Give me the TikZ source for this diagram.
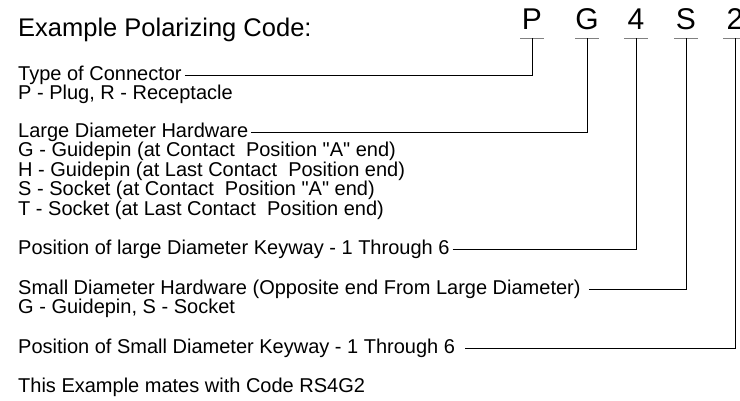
\documentclass[tikz,border=0pt]{standalone}
\usepackage{fontspec}
\setmainfont{Liberation Sans}
\begin{document}
\begin{tikzpicture}[x=1pt,y=-1pt,
  desc/.style={anchor=base west,inner sep=0pt,font=\fontsize{20}{24}\selectfont},
  codeletter/.style={anchor=base,inner sep=0pt,font=\fontsize{30}{36}\selectfont},
  leader/.style={line width=0.9pt}]
  \useasboundingbox (0,0) rectangle (740,400);
  % 标题
  \node[anchor=base west,inner sep=0pt,font=\fontsize{25.5}{30}\selectfont] (title) at (18,36) {Example Polarizing Code:};
  % 代码字母
  \node[codeletter] (cP) at (532,29) {P};
  \node[codeletter] (cG) at (587,29) {G};
  \node[codeletter] (c4) at (636,29) {4};
  \node[codeletter] (cS) at (686,29) {S};
  \node[codeletter] (c2) at (735,29) {2};
  % 字母下的短线
  \foreach \n/\x in {P/532,G/587,4/636,S/686,2/735} {
    \coordinate (b\n) at (\x,38);
    \draw[gray,line width=0.9pt] (b\n) +(-12,0) -- +(12,0);
  }
  % 说明文字
  \node[desc] (typ) at (18,80) {Type of Connector};
  \node[desc] (typA) at (18,99.5) {P - Plug, R - Receptacle};
  \node[desc] (lrg) at (18,137) {Large Diameter Hardware};
  \node[desc] (lrgA) at (18,156.5) {G - Guidepin (at Contact\ \ Position \textquotedbl A\textquotedbl\ end)};
  \node[desc] (lrgB) at (18,176) {H - Guidepin (at Last Contact\ \ Position end)};
  \node[desc] (lrgC) at (18,195.5) {S - Socket (at Contact\ \ Position \textquotedbl A\textquotedbl\ end)};
  \node[desc] (lrgD) at (18,215) {T - Socket (at Last Contact\ \ Position end)};
  \node[desc] (lkey) at (18,254) {Position of large Diameter Keyway - 1 Through 6};
  \node[desc] (sml) at (18,294) {Small Diameter Hardware (Opposite end From Large Diameter)};
  \node[desc] (smlA) at (18,313.5) {G - Guidepin, S - Socket};
  \node[desc] (skey) at (18,353) {Position of Small Diameter Keyway - 1 Through 6};
  \node[desc] (mate) at (18,392) {This Example mates with Code RS4G2};
  % 引线
  \draw[leader] ([xshift=3pt,yshift=5pt]typ.base east) -| (bP);
  \draw[leader] ([xshift=3pt,yshift=5pt]lrg.base east) -| (bG);
  \draw[leader] ([xshift=3pt,yshift=5pt]lkey.base east) -| (b4);
  \draw[leader] ([xshift=8pt,yshift=5pt]sml.base east) -| (bS);
  \draw[leader] ([xshift=10pt,yshift=5pt]skey.base east) -| (b2);
\end{tikzpicture}
\end{document}
